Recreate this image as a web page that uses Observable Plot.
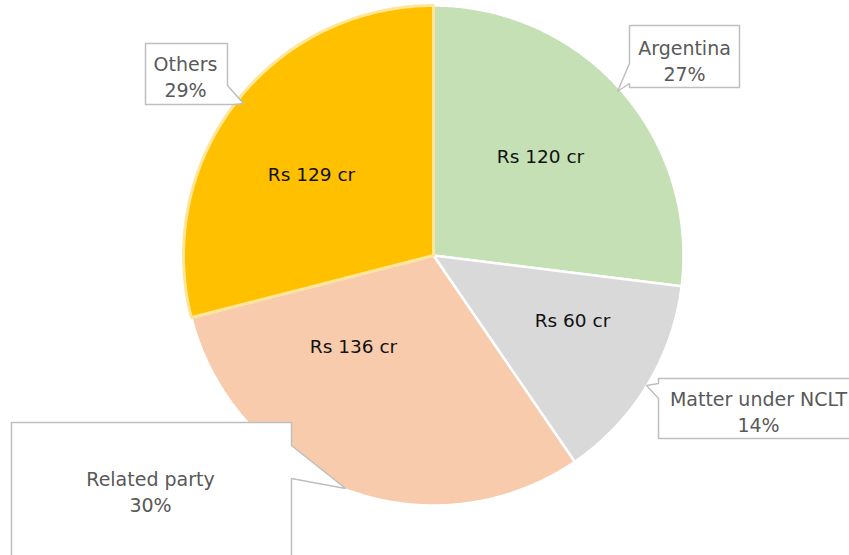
<!DOCTYPE html>
<html>
<head>
<meta charset="utf-8">
<script src="https://cdn.jsdelivr.net/npm/d3@7"></script>
<script src="https://cdn.jsdelivr.net/npm/@observablehq/plot@0.6"></script>
<style>
  html, body { margin: 0; padding: 0; background: #fff; overflow: hidden; }
  #chart svg { display: block; }
</style>
</head>
<body>
<div id="chart"></div>
<script>
// ---- data ----
const categories = ["Argentina", "Matter under NCLT", "Related party", "Others"];
const values = [120, 60, 136, 129];
const valueLabels = ["Rs 120 cr", "Rs 60 cr", "Rs 136 cr", "Rs 129 cr"];
const percentLabels = ["27%", "14%", "30%", "29%"];
const colors = ["#C5E0B4", "#D9D9D9", "#F8CBAD", "#FFC000"];

// ---- layout (pixels) ----
const W = 849, H = 555;
const cx = 433, cy = 255, R = 250;
const valueLabelPos = [[540, 157], [572, 321], [353, 347], [311, 175]];
const calloutTextPos = [[684, 59], [758, 410], [150, 490], [185, 75]];
const calloutShapes = [
  [[629,25],[739,25],[739,87],[629,87],[629,83],[617,91],[629,63]],
  [[658,378],[870,378],[870,438],[658,438],[658,398],[646,385],[658,383]],
  [[11,422],[291,422],[291,445],[345,488],[291,478],[291,570],[11,570]],
  [[145,43],[227,43],[227,85],[243,103],[233,104],[145,104]]
];

// ---- pie geometry from data ----
const arcs = d3.pie().sort(null).value(d => d)(values);
const slicePts = [];
arcs.forEach((a, i) => {
  slicePts.push({k: i, x: cx, y: cy});
  const n = Math.max(2, Math.ceil((a.endAngle - a.startAngle) / (Math.PI / 360)));
  for (let j = 0; j <= n; j++) {
    const t = a.startAngle + (a.endAngle - a.startAngle) * j / n;
    slicePts.push({k: i, x: cx + R * Math.sin(t), y: cy - R * Math.cos(t)});
  }
  slicePts.push({k: i, x: cx, y: cy});
});
const calloutPts = [];
calloutShapes.forEach((s, i) => {
  s.concat([s[0]]).forEach(p => calloutPts.push({k: i, x: p[0], y: p[1]}));
});
const normal = slicePts.filter(d => d.k !== 3);
const others = slicePts.filter(d => d.k === 3);

const valueText = categories.map((c, i) => ({x: valueLabelPos[i][0], y: valueLabelPos[i][1], t: valueLabels[i]}));
const calloutText = categories.map((c, i) => ({x: calloutTextPos[i][0], y: calloutTextPos[i][1], t: c + "\n" + percentLabels[i]}));

const chart = Plot.plot({
  width: W, height: H, margin: 0,
  x: {domain: [0, W], range: [0, W], axis: null},
  y: {domain: [0, H], range: [0, H], axis: null},
  style: {fontFamily: "DejaVu Sans", background: "#fff"},
  marks: [
    Plot.line(normal, {x: "x", y: "y", z: "k", fill: d => colors[d.k], stroke: "#fff", strokeWidth: 2.5, strokeLinejoin: "round", curve: "linear"}),
    Plot.line(others, {x: "x", y: "y", z: "k", fill: colors[3], stroke: "#FFE699", strokeWidth: 3, strokeLinejoin: "miter"}),
    Plot.line(calloutPts, {x: "x", y: "y", z: "k", fill: "#fff", stroke: "#BFBFBF", strokeWidth: 1.5, strokeLinejoin: "miter"}),
    Plot.text(valueText, {x: "x", y: "y", text: "t", fontSize: 18.5, fill: "#111"}),
    Plot.text(calloutText, {x: "x", y: "y", text: "t", fontSize: 19, lineHeight: 1.4, fill: "#595959"})
  ]
});
document.getElementById("chart").appendChild(chart);
</script>
</body>
</html>
